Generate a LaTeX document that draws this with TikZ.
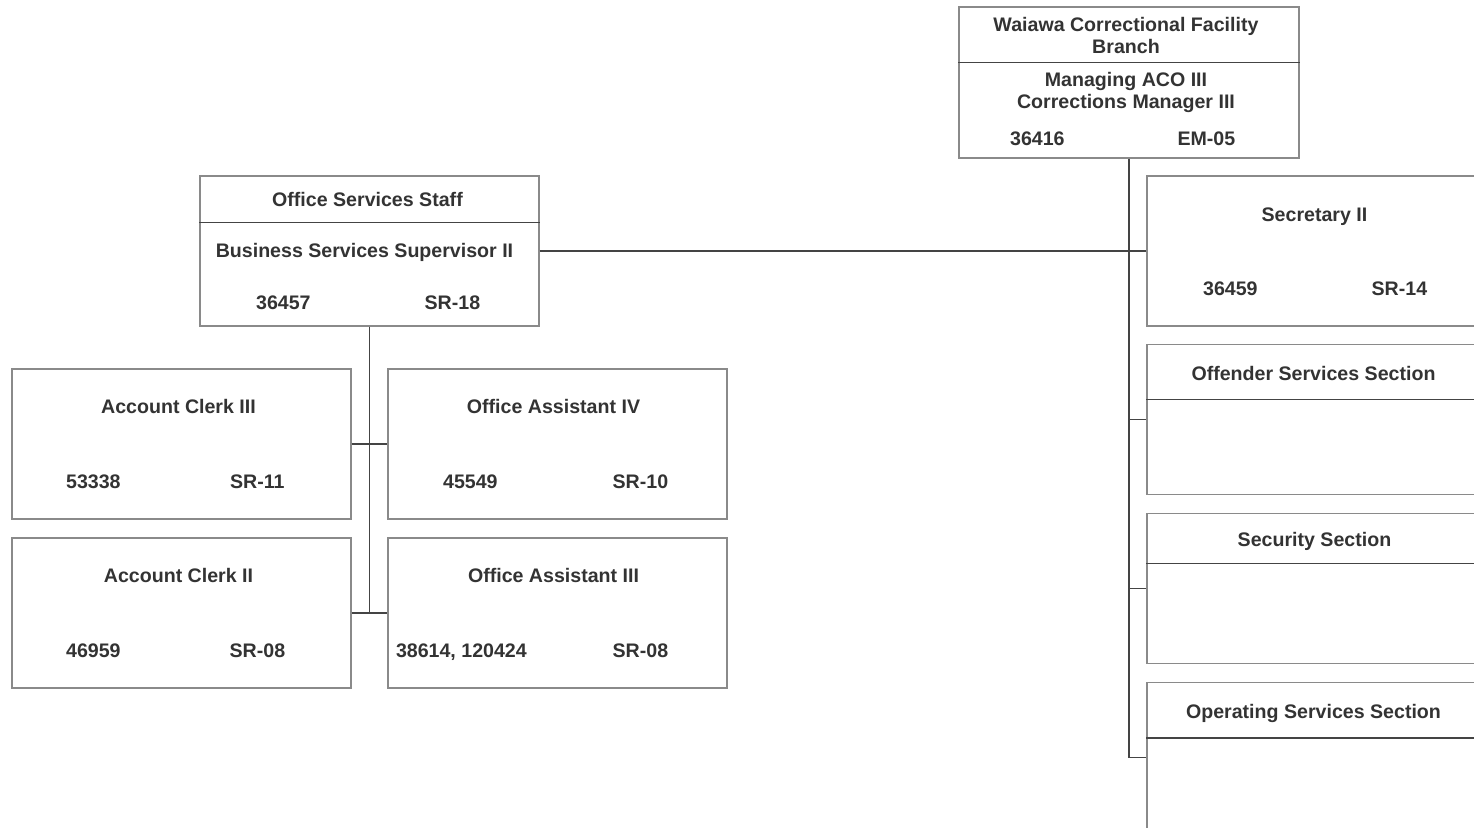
\documentclass[tikz,border=0pt]{standalone}
\usepackage{fontspec}
\setmainfont{Liberation Sans}
\usetikzlibrary{calc}

\definecolor{boxgray}{HTML}{8A8A8A}
\definecolor{linegray}{HTML}{444444}
\definecolor{textgray}{HTML}{333333}

\tikzset{
  post/.style={draw=boxgray, line width=0.6pt, minimum width=169.5pt, minimum height=75pt, inner sep=0pt},
  txt/.style={text=textgray, font=\fontsize{9.8}{11}\selectfont\bfseries, inner sep=0pt, align=center},
  num/.style={txt, anchor=base},
  link/.style={draw=linegray, line width=0.6pt},
}

\begin{document}
\begin{tikzpicture}[x=0.5pt, y=-0.5pt]
        \useasboundingbox (0,0) rectangle (1474,828);

        % 1. Branch head
        \node (top) at (1129,82.5) [post, minimum width=170pt, minimum height=75.5pt] {};
        \draw[link] ($(top.north west)+(0,56)$) -- ($(top.north east)+(0,56)$);
        \node (topname) at ($(top.north)+(-3,29)$) [txt] {Waiawa Correctional Facility\\Branch};
        \node (toptitle) at ($(top.north)+(-3,86)$) [txt] {Managing ACO III\\Corrections Manager III};
        \node (topno) at ($(top.north west)+(79,139)$) [num] {36416};
        \node (topsr) at ($(top.north west)+(248,139)$) [num] {EM-05};

        % 2. Office Services Staff
        \node (oss) at (369.5,251) [post] {};
        \draw[link] ($(oss.north west)+(0,47)$) -- ($(oss.north east)+(0,47)$);
        \node (ossname) at ($(oss.north)+(-2,31)$) [num] {Office Services Staff};
        \node (osstitle) at ($(oss.north)+(-5,82)$) [num] {Business Services Supervisor II};
        \node (ossno) at ($(oss.north west)+(84,134)$) [num] {36457};
        \node (osssr) at ($(oss.north west)+(253,134)$) [num] {SR-18};

        % 3. Right column (cut off at the page edge)
        \node (sec) at (1316.5,251) [post] {};
        \node (secname) at ($(sec.north)+(-2,46)$) [num] {Secretary II};
        \node (secno) at ($(sec.north west)+(84,120)$) [num] {36459};
        \node (secsr) at ($(sec.north west)+(253,120)$) [num] {SR-14};

        \node (ofs) at (1316.5,419.5) [post] {};
        \draw[link] ($(ofs.north west)+(0,56)$) -- ($(ofs.north east)+(0,56)$);
        \node (ofsname) at ($(ofs.north)+(-3,37)$) [num] {Offender Services Section};

        \node (sey) at (1316.5,588.5) [post] {};
        \draw[link] ($(sey.north west)+(0,51)$) -- ($(sey.north east)+(0,51)$);
        \node (seyname) at ($(sey.north)+(-2,34)$) [num] {Security Section};

        \node (ops) at (1316.5,757.5) [post] {};
        \draw[link] ($(ops.north west)+(0,56)$) -- ($(ops.north east)+(0,56)$);
        \node (opsname) at ($(ops.north)+(-3,37)$) [num] {Operating Services Section};

        % 4. Office staff positions
        \node (ac3) at (181.5,444) [post] {};
        \node (ac3name) at ($(ac3.north)+(-3,45)$) [num] {Account Clerk III};
        \node (ac3no) at ($(ac3.north west)+(82,120)$) [num] {53338};
        \node (ac3sr) at ($(ac3.north west)+(246,120)$) [num] {SR-11};

        \node (oa4) at (557.5,444) [post] {};
        \node (oa4name) at ($(oa4.north)+(-4,45)$) [num] {Office Assistant IV};
        \node (oa4no) at ($(oa4.north west)+(83,120)$) [num] {45549};
        \node (oa4sr) at ($(oa4.north west)+(253,120)$) [num] {SR-10};

        \node (ac2) at (181.5,613) [post] {};
        \node (ac2name) at ($(ac2.north)+(-3,45)$) [num] {Account Clerk II};
        \node (ac2no) at ($(ac2.north west)+(82,120)$) [num] {46959};
        \node (ac2sr) at ($(ac2.north west)+(246,120)$) [num] {SR-08};

        \node (oa3) at (557.5,613) [post] {};
        \node (oa3name) at ($(oa3.north)+(-4,45)$) [num] {Office Assistant III};
        \node (oa3no) at ($(oa3.north west)+(74,120)$) [num] {38614, 120424};
        \node (oa3sr) at ($(oa3.north west)+(253,120)$) [num] {SR-08};

        % 5. Reporting lines
        \draw[link] (top.south) |- (ops.west);
        \draw[link] (oss.east) -- (sec.west);
        \draw[link] (top.south |- ofs.west) -- (ofs.west);
        \draw[link] (top.south |- sey.west) -- (sey.west);
        \draw[link] (oss.south) -- (oss.south |- ac2.east);
        \draw[link] (ac3.east) -- (oa4.west);
        \draw[link] (ac2.east) -- (oa3.west);

\end{tikzpicture}
\end{document}
